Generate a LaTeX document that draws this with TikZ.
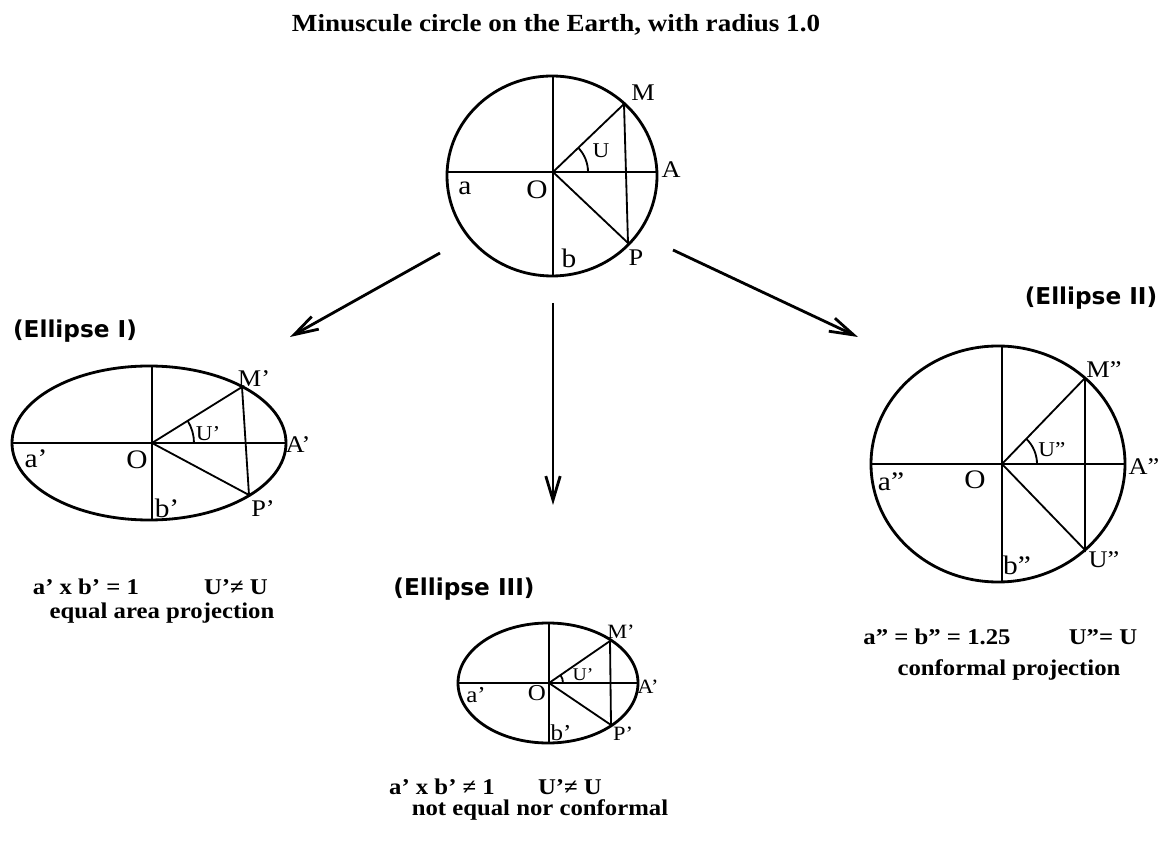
\documentclass[tikz,border=0pt]{standalone}
\usepackage{fontspec}
\setmainfont{Liberation Serif}
\newfontfamily\widefont[FakeStretch=1.1]{Liberation Serif}
\newfontfamily\headfont{DejaVu Sans}
\usetikzlibrary{arrows.meta}

\begin{document}
\begin{tikzpicture}[x=0.025cm, y=0.025cm,
	rim/.style={line width=2pt},
	axis/.style={line width=1.8pt},
	ray/.style={line width=1.3pt},
	flow/.style={line width=2pt, -{Straight Barb[length=6mm, width=3.6mm]}},
	ptlbl/.style={font=\widefont\fontsize{17}{17}\selectfont, inner sep=0pt},
	axislbl/.style={font=\widefont\fontsize{19}{19}\selectfont, inner sep=0pt},
	anglbl/.style={font=\widefont\fontsize{15}{15}\selectfont, inner sep=0pt},
	remark/.style={font=\widefont\bfseries\fontsize{16}{16}\selectfont, inner sep=0pt},
	headlbl/.style={font=\headfont\bfseries\fontsize{16.5}{16.5}\selectfont, inner sep=0pt}]
	\useasboundingbox (0,0) rectangle (1162,849);
	\node[remark, font=\widefont\bfseries\fontsize{17.5}{17.5}\selectfont] (title) at (556,824) {Minuscule circle on the Earth, with radius 1.0};

	\begin{scope}[shift={(553,677)}]
		\coordinate (oC) at (0,0);
		\coordinate (mC) at (71,68);
		\coordinate (pC) at (75,-71);
		\draw[rim] (-1,-4) ellipse [x radius=105, y radius=100];
		\draw[axis] (-106,0) -- (104,0) (0,96) -- (0,-104);
		\draw[ray] (mC) -- (oC) -- (pC) -- (mC);
		\draw[ray] (35,0) arc [start angle=0, end angle=44, radius=35];
		\node[ptlbl] (labMC) at (90,79) {M};
		\node[ptlbl] (labAC) at (118,2) {A};
		\node[ptlbl] (labPC) at (83,-86) {P};
		\node[axislbl] (labOC) at (-16,-18) {O};
		\node[axislbl] (labaC) at (-88,-16) {a};
		\node[axislbl] (labbC) at (16,-86) {b};
		\node[anglbl] (labUC) at (48,21) {U};
	\end{scope}

	\coordinate (srcI) at (440,596);
	\coordinate (dstI) at (290,512);
	\coordinate (srcIII) at (553,546);
	\coordinate (dstIII) at (553,344);
	\coordinate (srcII) at (673,599);
	\coordinate (dstII) at (858,512);
	\draw[flow] (srcI) -- (dstI);
	\draw[flow] (srcIII) -- (dstIII);
	\draw[flow] (srcII) -- (dstII);

	\node[headlbl] (headI) at (75,518) {(Ellipse I)};
	\begin{scope}[shift={(152,406)}]
		\coordinate (oI) at (0,0);
		\coordinate (mI) at (90,56);
		\coordinate (pI) at (97,-52);
		\draw[rim] (-3,0) ellipse [x radius=137, y radius=77];
		\draw[axis] (-140,0) -- (134,0) (0,77) -- (0,-77);
		\draw[ray] (mI) -- (oI) -- (pI) -- (mI);
		\draw[ray] (42,0) arc [start angle=0, end angle=32, radius=42];
		\node[ptlbl] (labMI) at (102,64) {M’};
		\node[ptlbl] (labAI) at (146,-2) {A’};
		\node[ptlbl] (labPI) at (111,-66) {P’};
		\node[axislbl] (labOI) at (-15,-17) {O};
		\node[axislbl] (labaI) at (-116,-16) {a’};
		\node[axislbl] (labbI) at (15,-65) {b’};
		\node[anglbl] (labUI) at (56,9) {U’};
	\end{scope}
	\node[remark] (formI) at (86,262) {a’ x b’ = 1};
	\node[remark] (angI) at (236,262) {U’≠ U};
	\node[remark] (kindI) at (162,236) {equal area projection};

	\node[headlbl] (headII) at (1091,551) {(Ellipse II)};
	\begin{scope}[shift={(1002,385)}]
		\coordinate (oII) at (0,0);
		\coordinate (mII) at (83,86);
		\coordinate (pII) at (83,-86);
		\draw[rim] (-4,0) ellipse [x radius=127, y radius=118];
		\draw[axis] (-131,0) -- (123,0) (0,118) -- (0,-118);
		\draw[ray] (mII) -- (oII) -- (pII) -- (mII);
		\draw[ray] (35,0) arc [start angle=0, end angle=46, radius=35];
		\node[ptlbl] (labMII) at (102,94) {M”};
		\node[ptlbl] (labAII) at (142,-3) {A”};
		\node[ptlbl] (labPII) at (102,-96) {U”};
		\node[axislbl] (labOII) at (-27,-16) {O};
		\node[axislbl] (labaII) at (-111,-18) {a”};
		\node[axislbl] (labbII) at (15,-101) {b”};
		\node[anglbl] (labUII) at (50,14) {U”};
	\end{scope}
	\node[remark] (formII) at (937,212) {a” = b” = 1.25};
	\node[remark] (angII) at (1103,212) {U”= U};
	\node[remark] (kindII) at (1009,179) {conformal projection};

	\node[headlbl] (headIII) at (464,260) {(Ellipse III)};
	\begin{scope}[shift={(549,166)}, every node/.append style={scale=0.85}]
		\coordinate (oIII) at (0,0);
		\coordinate (mIII) at (61,42);
		\coordinate (pIII) at (62,-42);
		\draw[rim] (-1,0) ellipse [x radius=90, y radius=60];
		\draw[axis] (-91,0) -- (89,0) (0,60) -- (0,-60);
		\draw[ray] (mIII) -- (oIII) -- (pIII) -- (mIII);
		\draw[ray] (14,0) arc [start angle=0, end angle=35, radius=14];
		\node[ptlbl] (labMIII) at (72,51) {M’};
		\node[ptlbl] (labAIII) at (99,-4) {A’};
		\node[ptlbl] (labPIII) at (74,-51) {P’};
		\node[axislbl] (labOIII) at (-12,-10) {O};
		\node[axislbl] (labaIII) at (-73,-12) {a’};
		\node[axislbl] (labbIII) at (12,-50) {b’};
		\node[anglbl] (labUIII) at (34,8) {U’};
	\end{scope}
	\node[remark] (formIII) at (442,62) {a’ x b’ ≠ 1};
	\node[remark] (angIII) at (570,62) {U’≠ U};
	\node[remark] (kindIII) at (540,39) {not equal nor conformal};
\end{tikzpicture}
\end{document}
